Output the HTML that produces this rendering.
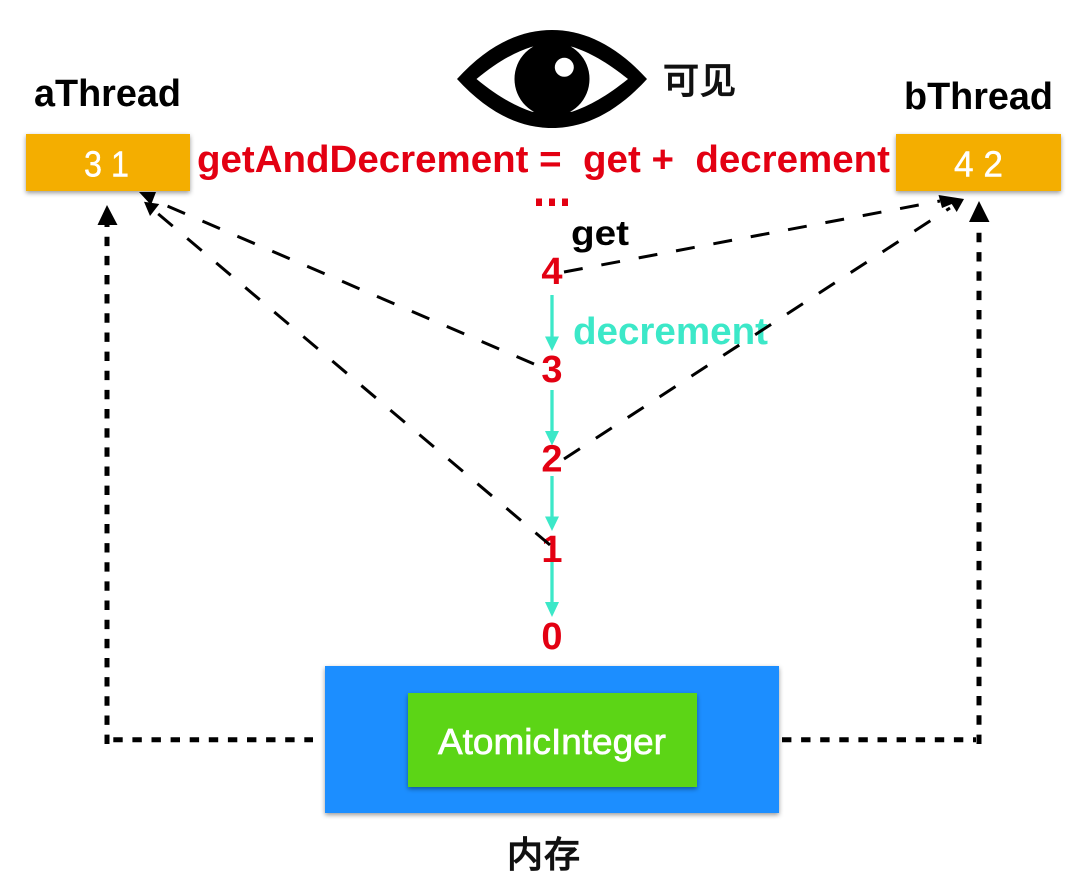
<!DOCTYPE html>
<html><head><meta charset="utf-8"><style>
html,body{margin:0;padding:0;background:#fff;width:1080px;height:891px;overflow:hidden}
svg{display:block}
text{font-family:"Liberation Sans","Noto Sans CJK SC",sans-serif}
.b{font-weight:bold}
.c{font-weight:normal;stroke:#111;stroke-width:1.300}
</style></head><body>
<svg width="1080" height="891" viewBox="0 0 1080 891" xmlns="http://www.w3.org/2000/svg">
<defs>
<filter id="s" x="-10%" y="-15%" width="120%" height="130%"><feDropShadow dx="0" dy="2" stdDeviation="2.500" flood-color="#000" flood-opacity=".4"/></filter>
</defs>
<rect width="1080" height="891" fill="#fff"/>

<!-- eye -->
<path d="M457 79C488 45 520 30 552 30C584 30 616 45 647 79C616 113 584 128 552 128C520 128 488 113 457 79Z" fill="#000"/>
<path d="M476.500 79C497 62 515 52 532 46.700L572 46.700C589 52 607 62 628 79C607 96 589 106 572 111.700L532 111.700C515 106 497 96 476.500 79Z" fill="#fff"/>
<circle cx="552" cy="79" r="37.500" fill="#000"/>
<circle cx="564.300" cy="67.300" r="9.500" fill="#fff"/>
<text x="663" y="93" class="c" font-size="36" textLength="73" fill="#111">可见</text>

<text x="34" y="106" class="b" font-size="38" textLength="147" lengthAdjust="spacingAndGlyphs" fill="#000">aThread</text>
<text x="904" y="109" class="b" font-size="38" textLength="149" lengthAdjust="spacingAndGlyphs" fill="#000">bThread</text>

<text x="197" y="172" class="b" font-size="38" xml:space="preserve" textLength="693" lengthAdjust="spacingAndGlyphs" fill="#e30012">getAndDecrement =  get +  decrement</text>

<g fill="#e30012"><rect x="536" y="198.500" width="6" height="7.500"/><rect x="549" y="198.500" width="6" height="7.500"/><rect x="562" y="198.500" width="6" height="7.500"/></g>

<text x="571" y="245" class="b" font-size="35" textLength="58" lengthAdjust="spacingAndGlyphs" fill="#000">get</text>
<text x="573" y="344" class="b" font-size="38" textLength="195" lengthAdjust="spacingAndGlyphs" fill="#3ce8c8">decrement</text>

<!-- teal arrows -->
<g stroke="#3ce8c8" stroke-width="3.300" fill="#3ce8c8">
<line x1="552" y1="295" x2="552" y2="340"/><path d="M545 336.500H559L552 351Z" stroke="none"/>
<line x1="552" y1="390" x2="552" y2="432"/><path d="M545 431H559L552 445.500Z" stroke="none"/>
<line x1="552" y1="476" x2="552" y2="520"/><path d="M545 516.500H559L552 531Z" stroke="none"/>
<line x1="552" y1="562" x2="552" y2="606"/><path d="M545 602H559L552 617Z" stroke="none"/>
</g>

<g font-size="38" fill="#e30012" text-anchor="middle" font-weight="bold">
<text x="552" y="284">4</text>
<text x="552" y="382">3</text>
<text x="552" y="471.500">2</text>
<text x="552" y="562">1</text>
<text x="552" y="649">0</text>
</g>

<!-- black dashed lines -->
<g stroke="#000" stroke-width="3" fill="none" stroke-dasharray="19 19">
<line x1="564" y1="272" x2="940" y2="201"/>
<line x1="564" y1="459" x2="950" y2="208"/>
<line x1="534" y1="364" x2="158" y2="202"/>
<line x1="550" y1="545" x2="156" y2="212"/>
</g>

<rect x="26" y="134" width="164" height="57" fill="#f4ae00" filter="url(#s)"/>
<rect x="896" y="134" width="165" height="57" fill="#f4ae00" filter="url(#s)"/>
<text x="84" y="176.500" font-size="36" textLength="45" lengthAdjust="spacingAndGlyphs" fill="#fff" stroke="#fff" stroke-width=".4">3 1</text>
<text x="954" y="176.500" font-size="36" textLength="49" lengthAdjust="spacingAndGlyphs" fill="#fff" stroke="#fff" stroke-width=".4">4 2</text>

<g fill="#000">
<path d="M139 192L156 192L151 205Z"/>
<path d="M144 201.700L159.300 204L150 216Z"/>
<path d="M964 199L938.500 195L942 208Z"/>
<path d="M964 199L949 199.500L956.700 212Z"/>
</g>

<!-- heavy dashed connectors -->
<g stroke="#000" stroke-width="5" fill="none">
<line x1="107" y1="744" x2="107" y2="224" stroke-dasharray="9.400 9.750"/>
<line x1="979" y1="744" x2="979" y2="224" stroke-dasharray="9.400 9.900"/>
<line x1="113.300" y1="739.700" x2="313" y2="739.700" stroke-dasharray="9.400 9.700"/>
<line x1="782" y1="739.700" x2="976" y2="739.700" stroke-dasharray="9.400 9.700"/>
</g>
<path d="M97.500 225L107 205L117.500 225Z" fill="#000"/>
<path d="M969 222L979 201L989.500 222Z" fill="#000"/>

<!-- memory -->
<rect x="325" y="666" width="454" height="147" fill="#1c8eff" filter="url(#s)"/>
<rect x="408" y="693" width="289" height="94" fill="#5cd516" filter="url(#s)"/>
<text x="438" y="754" font-size="36" textLength="228" lengthAdjust="spacingAndGlyphs" fill="#fff" stroke="#fff" stroke-width=".7">AtomicInteger</text>
<text x="507" y="867" class="c" font-size="36" textLength="73" fill="#111">内存</text>
</svg>
</body></html>
